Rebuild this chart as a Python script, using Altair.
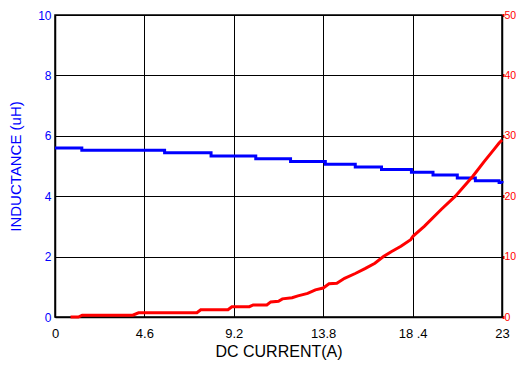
import altair as alt
import pandas as pd

# Inductance (left axis, uH) - step levels vs DC current (A)
ind_current = [0, 1.38, 5.64, 8.03, 10.33, 12.12, 13.91, 15.45, 16.8, 18.34, 19.45, 20.7, 21.63, 22.85, 23]
ind_value = [5.6, 5.52, 5.44, 5.33, 5.24, 5.15, 5.06, 4.97, 4.88, 4.79, 4.70, 4.60, 4.51, 4.45, 4.43]

# Red curve (right axis, 0-50)
red_current = [0.8, 1.2, 1.4, 4.0, 4.3, 7.3, 7.5, 8.9, 9.1, 10.0, 10.2, 10.9, 11.1, 11.5, 11.7,
               12.2, 12.5, 13.0, 13.4, 13.8, 14.1, 14.5, 14.9, 15.45, 15.95, 16.46, 16.9, 17.3,
               17.8, 18.3, 18.43, 19.0, 19.87, 20.6, 21.5, 22.1, 22.6, 22.85, 23.0]
red_value = [0, 0, 0.3, 0.3, 0.7, 0.7, 1.2, 1.2, 1.7, 1.7, 2.0, 2.0, 2.5, 2.6, 3.0,
             3.2, 3.5, 3.9, 4.5, 4.8, 5.5, 5.6, 6.4, 7.2, 8.0, 8.9, 10.0, 10.8,
             11.7, 12.8, 13.4, 15.0, 17.8, 20.0, 23.3, 25.8, 27.8, 28.8, 29.3]

x_ticks = [0, 4.6, 9.2, 13.8, 18.4, 23]
x_tick_labels = ["0", "4.6", "9.2", "13.8", "18 .4", "23"]
left_ticks = [0, 2, 4, 6, 8, 10]
right_ticks = [0, 10, 20, 30, 40, 50]

ind_df = pd.DataFrame({"current": ind_current, "value": ind_value})
red_df = pd.DataFrame({"current": red_current, "value": red_value})

label_expr = ""
for v, lab in zip(x_ticks, x_tick_labels):
    label_expr += f"abs(datum.value - {v}) < 0.01 ? '{lab}' : "
label_expr += "datum.label"

FONT = "Liberation Sans"

x_enc = alt.X(
    "current:Q",
    scale=alt.Scale(domain=[0, 23], nice=False, zero=False),
    axis=alt.Axis(
        values=x_ticks, labelExpr=label_expr, title="DC CURRENT(A)",
        grid=True, gridColor="#000000", gridWidth=1, gridOpacity=1,
        ticks=False, domainColor="#000000", domainWidth=1.5,
        labelColor="#000000", labelFont=FONT, labelFontSize=13, labelPadding=10,
        titleColor="#000000", titleFont=FONT, titleFontSize=16, titleFontWeight="normal",
        titlePadding=3, labelFlush=False,
    ),
)

blue = alt.Chart(ind_df).mark_line(color="#0000ff", strokeWidth=3, interpolate="step-after").encode(
    x=x_enc,
    y=alt.Y(
        "value:Q",
        scale=alt.Scale(domain=[0, 10], nice=False),
        axis=alt.Axis(
            orient="left", values=left_ticks, title="INDUCTANCE (uH)",
            grid=True, gridColor="#000000", gridWidth=1, gridOpacity=1,
            ticks=False, domainColor="#000000", domainWidth=1.5,
            labelColor="#0000ff", labelFont=FONT, labelFontSize=12, labelPadding=4,
            titleColor="#0000ff", titleFont=FONT, titleFontSize=15, titleFontWeight="normal",
            titlePadding=14,
        ),
    ),
)

red = alt.Chart(red_df).mark_line(color="#ff0000", strokeWidth=3).encode(
    x=alt.X("current:Q", scale=alt.Scale(domain=[0, 23], nice=False, zero=False)),
    y=alt.Y(
        "value:Q",
        scale=alt.Scale(domain=[0, 50], nice=False),
        axis=alt.Axis(
            orient="right", values=right_ticks, title=None, grid=False,
            ticks=True, tickSize=2, tickWidth=3, tickColor="#ff0000",
            domainColor="#000000", domainWidth=1.5,
            labelColor="#ff0000", labelFont=FONT, labelFontSize=10.5, labelPadding=0,
        ),
    ),
)

chart = (
    alt.layer(blue, red)
    .resolve_scale(y="independent")
    .properties(
        width=447, height=302,
        autosize=alt.AutoSizeParams(type="none"),
        padding={"left": 47, "top": 7, "right": 14, "bottom": 44},
        background="white",
    )
    .configure_view(stroke="#000000", strokeWidth=1.5)
)

chart.save("out.html", embed_options={"renderer": "svg", "actions": False})
